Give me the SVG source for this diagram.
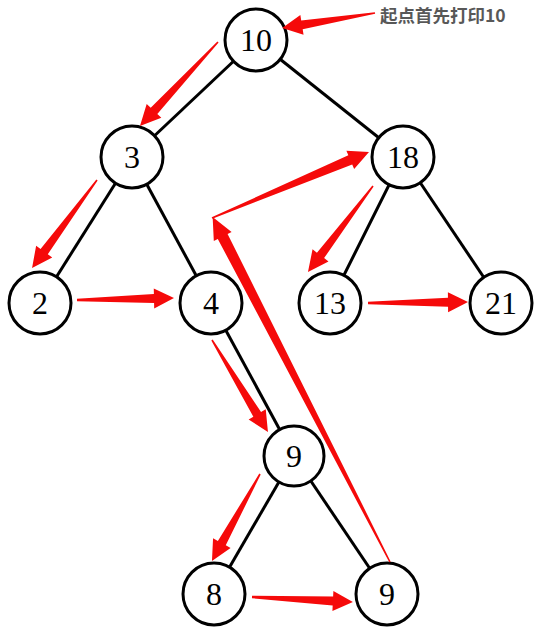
<svg xmlns="http://www.w3.org/2000/svg" width="544" height="636" viewBox="0 0 544 636">
<style>
.edge{stroke:#000;stroke-width:3;fill:none}
.node circle{fill:#fff;stroke:#000;stroke-width:3}
.node text{font-family:"Liberation Serif","DejaVu Serif",serif;font-size:32px;text-anchor:middle;fill:#000}
.arrow{fill:#f50a0a}
.label{font-family:"Noto Sans CJK SC","Noto Sans",sans-serif;font-weight:bold;font-size:17.5px;fill:#585858;stroke:#fff;stroke-width:4;paint-order:stroke;stroke-linejoin:round}
</style>
<rect width="544" height="636" fill="#fff"/>
<g id="edges">
<line class="edge" x1="256" y1="40" x2="132" y2="157"/>
<line class="edge" x1="256" y1="40" x2="403" y2="157"/>
<line class="edge" x1="132" y1="157" x2="40" y2="303"/>
<line class="edge" x1="132" y1="157" x2="211" y2="303"/>
<line class="edge" x1="403" y1="157" x2="330" y2="303"/>
<line class="edge" x1="403" y1="157" x2="501" y2="303"/>
<line class="edge" x1="211" y1="303" x2="294" y2="456"/>
<line class="edge" x1="294" y1="456" x2="214" y2="594"/>
<line class="edge" x1="294" y1="456" x2="387" y2="594"/>
</g>
<g id="n10" class="node"><circle cx="256" cy="40" r="31"/><text x="256" y="51">10</text></g>
<g id="n3" class="node"><circle cx="132" cy="157" r="31"/><text x="132" y="168">3</text></g>
<g id="n18" class="node"><circle cx="403" cy="157" r="31"/><text x="403" y="168">18</text></g>
<g id="n2" class="node"><circle cx="40" cy="303" r="31"/><text x="40" y="314">2</text></g>
<g id="n4" class="node"><circle cx="211" cy="303" r="31"/><text x="211" y="314">4</text></g>
<g id="n13" class="node"><circle cx="330" cy="303" r="31"/><text x="330" y="314">13</text></g>
<g id="n21" class="node"><circle cx="501" cy="303" r="31"/><text x="501" y="314">21</text></g>
<g id="n9a" class="node"><circle cx="294" cy="456" r="30"/><text x="294" y="467">9</text></g>
<g id="n8" class="node"><circle cx="214" cy="594" r="31"/><text x="214" y="605">8</text></g>
<g id="n9b" class="node"><circle cx="387" cy="594" r="31"/><text x="387" y="605">9</text></g>
<g id="arrows" class="arrow">
<polygon transform="translate(375,13) rotate(170.8)" points="0,-0.8 74,-4.5 74,-10 94,0 74,10 74,4.5 0,0.8"/>
<polygon transform="translate(218,42) rotate(132.9)" points="0,-0.8 94,-4.5 94,-10 114.6,0 94,10 94,4.5 0,0.8"/>
<polygon transform="translate(97,180) rotate(126.4)" points="0,-0.8 89,-4.5 89,-10 109.4,0 89,10 89,4.5 0,0.8"/>
<polygon transform="translate(77,300) rotate(-1.2)" points="0,-1.2 77,-4.5 77,-10 97,0 77,10 77,4.5 0,1.2"/>
<polygon transform="translate(212,340) rotate(58.7)" points="0,-0.8 87,-4.5 87,-10 107.7,0 87,10 87,4.5 0,0.8"/>
<polygon transform="translate(260,474) rotate(118.9)" points="0,-0.8 79,-4.5 79,-10 99.4,0 79,10 79,4.5 0,0.8"/>
<polygon transform="translate(252,597) rotate(2.8)" points="0,-1.2 81,-4.5 81,-10 101,0 81,10 81,4.5 0,1.2"/>
<polygon transform="translate(390,562) rotate(-117.2)" points="0,-0.8 366,-5.5 366,-10 388,0 366,10 366,5.5 0,0.8"/>
<polygon transform="translate(212,218) rotate(-22.8)" points="0,-0.8 150,-5 150,-10 170.3,0 150,10 150,5 0,0.8"/>
<polygon transform="translate(373,186) rotate(127.1)" points="0,-0.8 87,-4.5 87,-10 107.8,0 87,10 87,4.5 0,0.8"/>
<polygon transform="translate(368,303) rotate(-0.6)" points="0,-1.2 80,-4.5 80,-10 100,0 80,10 80,4.5 0,1.2"/>
</g>
<text id="label" class="label" x="380" y="22">起点首先打印10</text>
</svg>
